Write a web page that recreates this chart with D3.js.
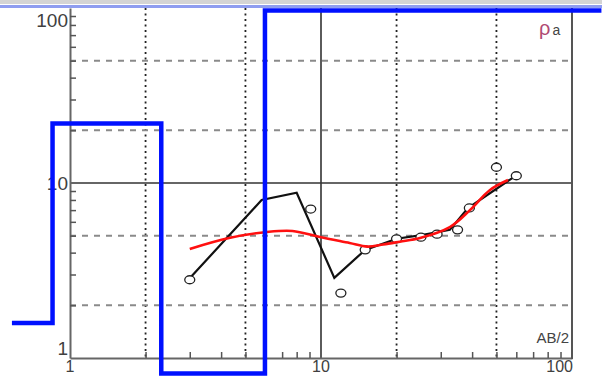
<!DOCTYPE html>
<html>
<head>
<meta charset="utf-8">
<script src="https://cdn.jsdelivr.net/npm/d3@7/dist/d3.min.js"></script>
<style>
  body { margin: 0; background: #fff; }
  svg { display: block; }
  text { font-family: "Liberation Sans", Arial, sans-serif; }
</style>
</head>
<body>
<svg id="chart" width="602" height="377"></svg>
<script>
// axis values
var majorTicks = [1, 10, 100];
var gridValues = [2, 5, 20, 50];
var minorTicks = [2, 3, 4, 5, 6, 7, 8, 9, 20, 30, 40, 50, 60, 70, 80, 90];

// measured apparent resistivity (circles)
var obsAB = [3.0, 9.1, 12, 15, 20, 25, 29, 35, 39, 50, 60];
var obsRho = [2.8, 7.1, 2.35, 4.15, 4.8, 4.9, 5.1, 5.4, 7.2, 12.3, 11.0];

// field curve (black line)
var curveAB = [3.03, 5.8, 8.0, 11.3, 15, 20, 25.5, 32.6, 38.5, 58];
var curveRho = [2.9, 8.0, 8.8, 2.87, 4.15, 4.8, 5.05, 5.4, 7.2, 10.7];

// calculated curve (red)
var fitAB = [3.0, 4.3, 6.1, 7.7, 9.9, 13, 15.3, 17.7, 20.6, 24.8, 32.6, 39.2, 47, 55.6];
var fitRho = [4.2, 4.85, 5.25, 5.32, 4.91, 4.54, 4.33, 4.45, 4.62, 4.85, 5.6, 7.0, 9.1, 10.4];

// layered model (blue): boundaries and resistivities
var modelAB = [0.587, 0.852, 2.31, 5.98, 131];
var modelRho = [1.585, 21.9, 0.815, 96.9];

(function () {
  var svg = d3.select('#chart');
  var x = d3.scaleLog().domain([1, 100]).range([70, 572]);
  var y = d3.scaleLog().domain([1, 100]).range([358, 8]);

  // top strip
  svg.append('rect').attr('x', 0).attr('y', 0).attr('width', 602).attr('height', 4)
      .attr('fill', '#d4d4d4');
  svg.append('line').attr('x1', 0).attr('x2', 602).attr('y1', 6.5).attr('y2', 6.5)
      .attr('stroke', '#8f9df0').attr('stroke-width', 3);

  var grid = svg.append('g');
  grid.selectAll('line.vgrid').data(gridValues).enter().append('line')
      .attr('class', 'vgrid')
      .attr('x1', function (d) { return x(d); })
      .attr('x2', function (d) { return x(d); })
      .attr('y1', y(100)).attr('y2', y(1))
      .attr('stroke', '#222').attr('stroke-width', 1.8)
      .attr('stroke-dasharray', '2,3.5');
  grid.selectAll('line.hgrid').data(gridValues).enter().append('line')
      .attr('class', 'hgrid')
      .attr('x1', x(1)).attr('x2', x(100))
      .attr('y1', function (d) { return y(d); })
      .attr('y2', function (d) { return y(d); })
      .attr('stroke', '#8a8a8a').attr('stroke-width', 2)
      .attr('stroke-dasharray', '6,6');
  grid.append('line').attr('x1', x(10)).attr('x2', x(10)).attr('y1', y(100)).attr('y2', y(1))
      .attr('stroke', '#333').attr('stroke-width', 1.6);
  grid.append('line').attr('x1', x(1)).attr('x2', x(100)).attr('y1', y(10)).attr('y2', y(10))
      .attr('stroke', '#333').attr('stroke-width', 1.6);

  // axes with inward minor ticks
  var yAxis = d3.axisLeft(y).tickValues(minorTicks).tickSizeInner(-6).tickSizeOuter(0).tickFormat('');
  var gy = svg.append('g').attr('transform', 'translate(' + x(1) + ',0)').call(yAxis);
  var xAxis = d3.axisBottom(x).tickValues(minorTicks).tickSizeInner(-6).tickSizeOuter(0).tickFormat('');
  var gx = svg.append('g').attr('transform', 'translate(0,' + y(1) + ')').call(xAxis);
  [gy, gx].forEach(function (g) {
    g.select('.domain').attr('stroke', '#666').attr('stroke-width', 2);
    g.selectAll('.tick line').attr('stroke', '#555').attr('stroke-width', 1.5);
  });
  svg.append('line').attr('x1', x(100)).attr('x2', x(100)).attr('y1', y(100)).attr('y2', y(1) + 1)
      .attr('stroke', '#555').attr('stroke-width', 2);

  // tick labels
  var yLabelDy = [-3, 7, 19];
  svg.selectAll('text.ylab').data(majorTicks).enter().append('text')
      .attr('class', 'ylab')
      .attr('x', 68)
      .attr('y', function (d, i) { return y(d) + yLabelDy[i]; })
      .attr('text-anchor', 'end')
      .attr('font-size', 19)
      .attr('fill', '#404040')
      .text(function (d) { return d; });
  var xAnchor = ['middle', 'middle', 'end'];
  svg.selectAll('text.xlab').data(majorTicks).enter().append('text')
      .attr('class', 'xlab')
      .attr('x', function (d) { return x(d) + (d === 100 ? 1 : 0); })
      .attr('y', 372)
      .attr('text-anchor', function (d, i) { return xAnchor[i]; })
      .attr('font-size', 16)
      .attr('fill', '#404040')
      .text(function (d) { return d; });

  // axis titles
  var rho = svg.append('text').attr('x', 539).attr('y', 35).attr('font-size', 20);
  rho.append('tspan').attr('fill', '#b04a72').text('ρ');
  rho.append('tspan').attr('fill', '#444').attr('font-size', 14).attr('dx', 2).text('a');
  svg.append('text').attr('x', 569).attr('y', 343).attr('text-anchor', 'end')
      .attr('font-size', 15).attr('fill', '#444').text('AB/2');

  // field curve
  var curvePts = curveAB.map(function (d, i) { return [d, curveRho[i]]; });
  svg.append('path').datum(curvePts)
      .attr('d', d3.line().x(function (d) { return x(d[0]); }).y(function (d) { return y(d[1]); }))
      .attr('fill', 'none').attr('stroke', '#111').attr('stroke-width', 2.2);

  // measured points
  svg.selectAll('ellipse.obs').data(obsAB).enter().append('ellipse')
      .attr('class', 'obs')
      .attr('cx', function (d) { return x(d); })
      .attr('cy', function (d, i) { return y(obsRho[i]); })
      .attr('rx', 5).attr('ry', 4)
      .attr('fill', '#fff').attr('stroke', '#222').attr('stroke-width', 1.3);

  // calculated curve
  var fitPts = fitAB.map(function (d, i) { return [d, fitRho[i]]; });
  svg.append('path').datum(fitPts)
      .attr('d', d3.line().curve(d3.curveCatmullRom)
          .x(function (d) { return x(d[0]); }).y(function (d) { return y(d[1]); }))
      .attr('fill', 'none').attr('stroke', '#ff1010').attr('stroke-width', 2.6);

  // layered model
  var modelPts = modelAB.map(function (d, i) {
    return [d, modelRho[Math.min(i, modelRho.length - 1)]];
  });
  svg.append('path').datum(modelPts)
      .attr('d', d3.line().curve(d3.curveStepAfter)
          .x(function (d) { return x(d[0]); }).y(function (d) { return y(d[1]); }))
      .attr('fill', 'none').attr('stroke', '#0010ff').attr('stroke-width', 4.5);
})();
</script>
</body>
</html>
